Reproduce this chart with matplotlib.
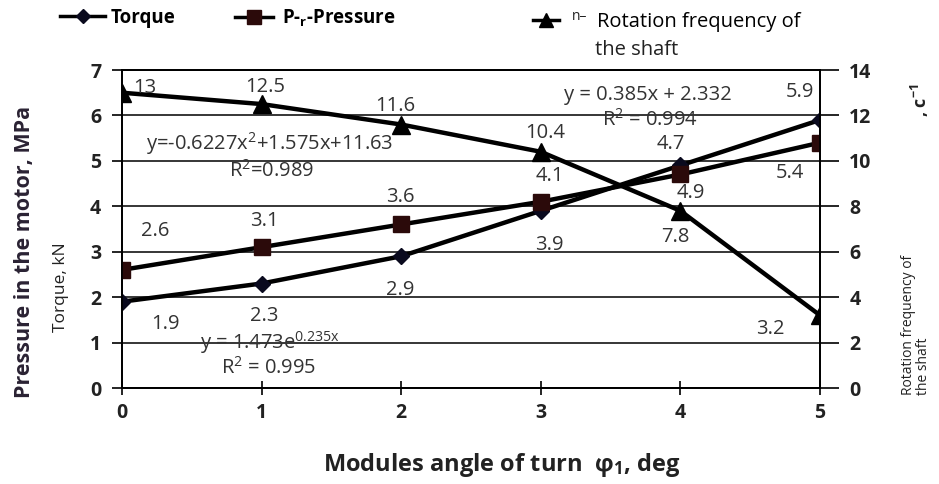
import matplotlib
matplotlib.use("Agg")
import matplotlib.pyplot as plt
from matplotlib.lines import Line2D

plt.rcParams['font.family'] = ['Open Sans', 'DejaVu Sans']
plt.rcParams['mathtext.default'] = 'regular'

# data
angle = [0, 1, 2, 3, 4, 5]
torque = [1.9, 2.3, 2.9, 3.9, 4.9, 5.9]
pressure = [2.6, 3.1, 3.6, 4.1, 4.7, 5.4]
rotation = [13, 12.5, 11.6, 10.4, 7.8, 3.2]

# label offsets in pixels (dx, dy) relative to each point
torque_off = [(43, -22), (3, -32), (-1, -34), (9, -34), (10, -28), (-20, 28)]
pressure_off = [(33, 39), (3, 26), (-1, 27), (9, 26), (-10, 30), (-30, -30)]
rotation_off = [(23, 5), (4, 17), (-6, 19), (4, 19), (-5, -26), (-50, -14)]

fig = plt.figure(figsize=(9.39, 4.84), dpi=100)
ax = fig.add_axes([122/939, 1-388/484, (820-122)/939, (388-70)/484])
ax2 = ax.twinx()

lc = 'black'
ax.plot(angle, torque, '-', color=lc, lw=3.2, marker='D', ms=8, mfc='#0a0a1e', mec='#0a0a1e', zorder=5)
ax.plot(angle, pressure, '-', color=lc, lw=3.2, marker='s', ms=12, mfc='#2b0a0a', mec='#2b0a0a', zorder=5)
ax2.plot(angle, rotation, '-', color=lc, lw=3.2, marker='^', ms=13, mfc='black', mec='black', zorder=5)

ax.set_xlim(0, 5)
ax.set_ylim(0, 7)
ax2.set_ylim(0, 14)
ax.set_xticks(angle)
ax.set_yticks(range(0, 8))
ax2.set_yticks(range(0, 15, 2))
ax.grid(axis='y', color='black', lw=1.1)
ax.set_axisbelow(True)

for a in (ax, ax2):
    for s in a.spines.values():
        s.set_color('black')
        s.set_linewidth(1.3)
ax.tick_params(axis='y', direction='out', length=7, width=1.2, labelsize=14, pad=8)
ax.tick_params(axis='x', direction='inout', length=10, width=1.2, labelsize=14, pad=6)
ax2.tick_params(axis='y', direction='out', length=14, width=1.2, labelsize=14, pad=7)
for lab in ax.get_xticklabels() + ax.get_yticklabels() + ax2.get_yticklabels():
    lab.set_fontweight('bold')
    lab.set_color('#222222')

tc = '#333333'
fs = 14.5
for x, v, o in zip(angle, torque, torque_off):
    ax.annotate(f'{v:g}', (x, v), xytext=o, textcoords='offset pixels',
                ha='center', va='center', fontsize=fs, color=tc, zorder=6)
for x, v, o in zip(angle, pressure, pressure_off):
    ax.annotate(f'{v:g}', (x, v), xytext=o, textcoords='offset pixels',
                ha='center', va='center', fontsize=fs, color=tc, zorder=6)
for x, v, o in zip(angle, rotation, rotation_off):
    ax2.annotate(f'{v:g}', (x, v), xytext=o, textcoords='offset pixels',
                 ha='center', va='center', fontsize=fs, color=tc, zorder=6)

# trend line equations
eq = dict(ha='center', va='center', fontsize=fs, color=tc, zorder=6)
ax.text(1.06, 5.39, 'y=-0.6227x$^{2}$+1.575x+11.63', **eq)
ax.text(1.07, 4.78, 'R$^{2}$=0.989', **eq)
ax.text(3.77, 6.45, 'y = 0.385x + 2.332', **eq)
ax.text(3.78, 5.90, 'R$^{2}$ = 0.994', **eq)
ax.text(1.06, 1.01, 'y = 1.473e$^{0.235x}$', **eq)
ax.text(1.05, 0.44, 'R$^{2}$ = 0.995', **eq)

# legends
h1 = Line2D([], [], color='black', lw=2.5, marker='D', ms=7, mfc='#0a0a1e', mec='#0a0a1e')
h2 = Line2D([], [], color='black', lw=2.5, marker='s', ms=10, mfc='#2b0a0a', mec='#2b0a0a')
h3 = Line2D([], [], color='black', lw=2.5, marker='^', ms=10, mfc='black', mec='black')
common = dict(loc='center left', frameon=False, borderpad=0, borderaxespad=0,
              prop={'size': 13.5, 'weight': 'bold'})
fig.legend([h1], ['Torque'], bbox_to_anchor=(60/939, 1-18/484), handlelength=2.4,
           handletextpad=0.3, **common)
fig.legend([h2], ['P-$_{r}$-Pressure'], bbox_to_anchor=(235/939, 1-18/484), handlelength=2.0,
           handletextpad=0.5, **common)
fig.legend([h3], ['Rotation frequency of'], bbox_to_anchor=(533/939, 1-22/484), handlelength=1.3,
           handletextpad=1.9, loc='center left', frameon=False, borderpad=0, borderaxespad=0,
           prop={'size': 14.5})
fig.text(572/939, 1-17/484, 'n–', fontsize=10, ha='left', va='center', color='#222222')
fig.text(595/939, 1-50/484, 'the shaft', fontsize=14.5, ha='left', va='center', color='#222222')

# axis titles
fig.text(25/939, 1-252/484, 'Pressure in the motor, MPa', rotation=90, ha='center', va='center',
         fontsize=15.5, fontweight='bold', color='#2a2233')
fig.text(61/939, 1-287/484, 'Torque, kN', rotation=90, ha='center', va='center',
         fontsize=12.5, color='#222222')
fig.text(916/939, 1-395/484, 'Rotation frequency of\nthe shaft', rotation=90, ha='center',
         va='bottom', multialignment='left', fontsize=10, color='#222222', linespacing=1.05)
fig.text(920/939, 1-100/484, ', c$^{-1}$', rotation=90, ha='center', va='center',
         fontsize=13, fontweight='bold', color='#222222')
fig.text(502/939, 1-465/484, 'Modules angle of turn  φ$_{1}$, deg', ha='center', va='center',
         fontsize=17, fontweight='bold', color='#222222')

fig.savefig('out.png', dpi=100)
